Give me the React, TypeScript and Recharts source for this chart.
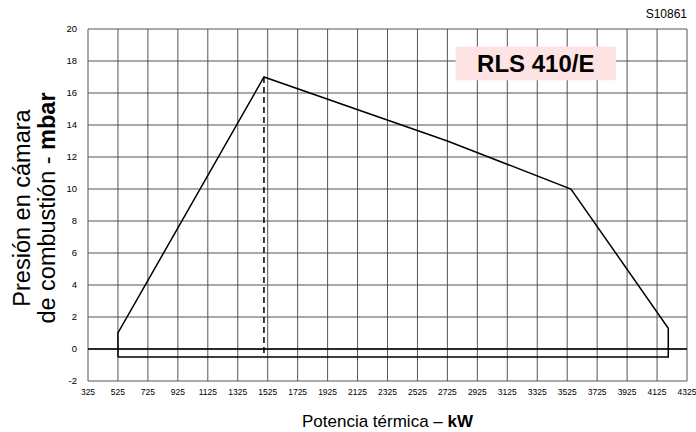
import React from "react";
import {
  LineChart,
  Line,
  XAxis,
  YAxis,
  CartesianGrid,
  ReferenceLine,
  ReferenceArea,
} from "recharts";

// working range of the burner (kW vs mbar)
const X_TICKS = [
  325, 525, 725, 925, 1125, 1325, 1525, 1725, 1925, 2125, 2325, 2525, 2725,
  2925, 3125, 3325, 3525, 3725, 3925, 4125, 4325,
];
const Y_TICKS = [-2, 0, 2, 4, 6, 8, 10, 12, 14, 16, 18, 20];

const RANGE_KW = [525, 525, 1500, 2725, 3550, 4200, 4200, 525];
const RANGE_MBAR = [-0.5, 1, 17, 13, 10, 1.3, -0.5, -0.5];

const PEAK_KW = [1500, 1500];
const PEAK_MBAR = [17, -0.5];

const MODEL = "RLS 410/E";
const CODE = "S10861";

const FONT = "'Liberation Sans', Arial, sans-serif";

const rangeData = RANGE_KW.map((x, i) => ({ x, y: RANGE_MBAR[i] }));
const peakData = PEAK_KW.map((x, i) => ({ x, y: PEAK_MBAR[i] }));

function XTitle({ viewBox }: any) {
  const cx = viewBox.x + viewBox.width / 2;
  return (
    <text x={cx} y={427} textAnchor="middle" fontSize={17} fontFamily={FONT} fill="#000">
      Potencia térmica – <tspan fontWeight="bold">kW</tspan>
    </text>
  );
}

function YTitle({ viewBox }: any) {
  const cy = viewBox.y + viewBox.height / 2 + 3;
  return (
    <g fontSize={23.5} fontFamily={FONT} fill="#000" textAnchor="middle">
      <text x={30} y={cy} transform={`rotate(-90, 30, ${cy})`}>
        Presión en cámara
      </text>
      <text x={55} y={cy} transform={`rotate(-90, 55, ${cy})`}>
        de combustión - <tspan fontWeight="bold">mbar</tspan>
      </text>
    </g>
  );
}

function ModelLabel({ viewBox }: any) {
  return (
    <text
      x={viewBox.x + viewBox.width / 2}
      y={viewBox.y + viewBox.height / 2 + 8.5}
      textAnchor="middle"
      fontSize={24}
      fontWeight="bold"
      fontFamily={FONT}
      fill="#000"
    >
      {MODEL}
    </text>
  );
}

export default function App() {
  return (
    <div style={{ position: "absolute", left: 0, top: 0, width: 696, height: 432, background: "#fff" }}>
      <LineChart
        width={696}
        height={432}
        margin={{ top: 29, right: 9, bottom: 0, left: 0 }}
      >
        <CartesianGrid stroke="#555" strokeWidth={1} />
        <XAxis
          type="number"
          dataKey="x"
          domain={[325, 4325]}
          ticks={X_TICKS}
          interval={0}
          allowDataOverflow
          height={51}
          tickSize={0}
          tickMargin={8}
          axisLine={false}
          tickLine={false}
          tick={{ fontSize: 8.5, fill: "#000", fontFamily: FONT }}
          label={{ content: XTitle }}
        />
        <YAxis
          type="number"
          domain={[-2, 20]}
          ticks={Y_TICKS}
          interval={0}
          allowDataOverflow
          width={88}
          tickSize={0}
          tickMargin={11}
          axisLine={false}
          tickLine={false}
          tick={{ fontSize: 9.5, fill: "#000", fontFamily: FONT }}
          label={{ content: YTitle }}
        />
        <ReferenceArea
          x1={2780}
          x2={3850}
          y1={16.8}
          y2={18.9}
          fill="#fde3e4"
          fillOpacity={1}
          stroke="none"
          ifOverflow="visible"
          label={{ content: ModelLabel }}
        />
        <ReferenceLine y={0} stroke="#000" strokeWidth={1.5} />
        <Line
          data={rangeData}
          dataKey="y"
          type="linear"
          stroke="#000"
          strokeWidth={1.5}
          dot={false}
          activeDot={false}
          isAnimationActive={false}
        />
        <Line
          data={peakData}
          dataKey="y"
          type="linear"
          stroke="#000"
          strokeWidth={1.5}
          strokeDasharray="6 4"
          dot={false}
          activeDot={false}
          isAnimationActive={false}
        />
        <text x={687} y={18} textAnchor="end" fontSize={12} fontFamily={FONT} fill="#000">
          {CODE}
        </text>
      </LineChart>
    </div>
  );
}
